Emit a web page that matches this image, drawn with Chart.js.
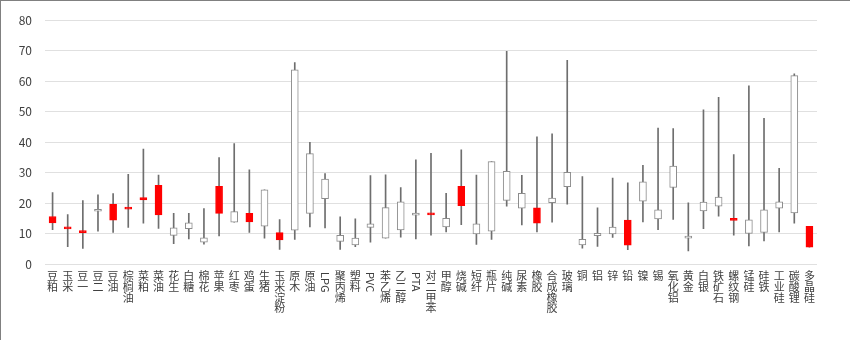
<!DOCTYPE html>
<html lang="zh">
<head>
  <meta charset="UTF-8">
  <title>期货品种区间</title>
  <script src="https://cdn.jsdelivr.net/npm/chart.js"></script>
  <style>
    body {
      margin: 0;
      background: #fff;
      overflow: hidden;
    }
    .wrap {
      position: relative;
      width: 850px;
      height: 340px;
    }
    .frame {
      position: absolute;
      left: 0;
      top: 0;
      width: 850px;
      height: 340px;
      border-top: 1px solid #808080;
      border-left: 1px solid #808080;
      box-sizing: border-box;
      pointer-events: none;
    }
  </style>
</head>
<body>
  <div class="wrap">
    <canvas id="chartCanvas" width="850" height="340"></canvas>
    <div class="frame"></div>
  </div>

  <script>
    const categories = ['豆粕', '玉米', '豆一', '豆二', '豆油', '棕榈油', '菜粕', '菜油', '花生', '白糖',
      '棉花', '苹果', '红枣', '鸡蛋', '生猪', '玉米淀粉', '原木', '原油', 'LPG', '聚丙烯',
      '塑料', 'PVC', '苯乙烯', '乙二醇', 'PTA', '对二甲苯', '甲醇', '烧碱', '短纤', '瓶片',
      '纯碱', '尿素', '橡胶', '合成橡胶', '玻璃', '铜', '铝', '锌', '铅', '镍',
      '锡', '氧化铝', '黄金', '白银', '铁矿石', '螺纹钢', '锰硅', '硅铁', '工业硅', '碳酸锂', '多晶硅'];

    const openVals = [13.5, 11.5, 10.3, 17.7, 14.4, 18.0, 21.0, 16.1, 11.9, 13.5,
      8.6, 16.6, 17.2, 13.8, 24.3, 7.9, 63.7, 36.2, 27.9, 9.4,
      8.5, 13.2, 18.5, 20.4, 16.7, 16.1, 15.0, 19.1, 13.2, 33.6,
      30.4, 23.2, 13.4, 21.6, 30.1, 8.1, 10.1, 12.1, 6.2, 27.0,
      17.8, 32.1, 8.7, 20.3, 22.0, 14.3, 14.5, 17.8, 20.4, 61.8, 5.5];

    const closeVals = [15.6, 11.7, 10.8, 17.3, 19.6, 18.4, 21.8, 25.8, 9.4, 11.6,
      7.2, 25.5, 13.7, 16.6, 12.4, 10.3, 11.1, 16.6, 21.4, 7.4,
      6.3, 12.0, 8.5, 11.2, 16.0, 16.6, 12.2, 25.5, 9.9, 10.8,
      20.9, 18.3, 18.4, 20.1, 25.4, 6.3, 9.3, 9.9, 14.4, 20.6,
      14.8, 25.1, 8.5, 17.4, 19.0, 15.0, 10.0, 10.4, 18.3, 16.8, 12.4];

    const lowVals = [11.3, 5.7, 5.1, 10.8, 10.4, 12.0, 13.4, 11.7, 6.7, 8.2,
      6.5, 9.2, 13.7, 10.4, 8.5, 4.8, 8.1, 12.2, 11.8, 4.8,
      5.7, 7.2, 8.5, 8.8, 8.2, 9.5, 10.5, 12.9, 6.4, 8.1,
      19.0, 12.8, 10.5, 13.7, 19.6, 5.2, 5.8, 8.7, 4.7, 13.8,
      11.3, 14.6, 4.3, 11.6, 15.7, 9.5, 5.9, 7.6, 10.5, 13.4, 5.5];

    const highVals = [23.4, 16.2, 20.8, 22.7, 23.1, 29.4, 37.7, 29.2, 16.6, 16.6,
      18.2, 34.9, 39.5, 30.9, 24.3, 14.6, 66.1, 39.9, 29.7, 15.5,
      14.8, 29.0, 29.3, 25.1, 34.2, 36.3, 23.2, 37.5, 29.2, 33.6,
      69.8, 29.1, 41.7, 42.7, 66.8, 28.7, 18.4, 28.2, 26.6, 32.4,
      44.6, 44.4, 20.1, 50.6, 54.7, 35.9, 58.5, 47.8, 31.4, 62.4, 12.4];

    const fontFamily = "'Noto Sans CJK SC', 'Noto Sans', sans-serif";
    const isLatin = s => /^[A-Za-z]+$/.test(s);

    const boxData = categories.map((c, i) => [Math.min(openVals[i], closeVals[i]), Math.max(openVals[i], closeVals[i])]);
    const wickData = categories.map((c, i) => [lowVals[i], highVals[i]]);
    const rising = categories.map((c, i) => closeVals[i] > openVals[i]);

    // rotated labels for the latin names (LPG, PVC, PTA)
    const latinLabels = {
      id: 'latinLabels',
      afterDraw(chart) {
        const xs = chart.scales.x;
        const ctx = chart.ctx;
        ctx.save();
        ctx.font = '11px ' + fontFamily;
        ctx.fillStyle = '#404040';
        ctx.textBaseline = 'middle';
        ctx.textAlign = 'left';
        categories.forEach((c, i) => {
          if (!isLatin(c)) return;
          const x = xs.getPixelForValue(i);
          ctx.save();
          ctx.translate(x, xs.top + 8);
          ctx.rotate(Math.PI / 2);
          ctx.fillText(c, 0, 0);
          ctx.restore();
        });
        ctx.restore();
      }
    };

    const ctx = document.getElementById('chartCanvas').getContext('2d');
    new Chart(ctx, {
      type: 'bar',
      data: {
        labels: categories,
        datasets: [
          {
            data: boxData,
            order: 0,
            grouped: false,
            barThickness: 7,
            minBarLength: 2,
            backgroundColor: rising.map(r => r ? '#ff0000' : '#ffffff'),
            borderColor: rising.map(r => r ? '#ff0000' : '#8c8c8c'),
            borderWidth: 1,
            borderSkipped: false
          },
          {
            data: wickData,
            order: 1,
            grouped: false,
            barThickness: 1,
            backgroundColor: '#6e6e6e',
            borderWidth: 0
          }
        ]
      },
      options: {
        responsive: false,
        animation: false,
        layout: { padding: { left: 0, right: 33, top: 19, bottom: 15 } },
        plugins: {
          legend: { display: false },
          tooltip: { enabled: false }
        },
        scales: {
          x: {
            grid: { display: false, drawTicks: false },
            border: { display: false },
            ticks: {
              autoSkip: false,
              maxRotation: 0,
              minRotation: 0,
              padding: 7,
              color: '#404040',
              font: { family: fontFamily, size: 11, lineHeight: 0.96 },
              callback: function (value) {
                const name = categories[value];
                return isLatin(name) ? '' : Array.from(name);
              }
            },
            afterFit(scale) { scale.height = 61; }
          },
          y: {
            min: 0,
            max: 80,
            grid: { color: '#e0e0e0', lineWidth: 1, drawTicks: false },
            border: { display: false },
            ticks: {
              stepSize: 10,
              padding: 13,
              color: '#404040',
              font: { family: fontFamily, size: 12 }
            },
            afterFit(scale) { scale.width = 45; }
          }
        }
      },
      plugins: [latinLabels]
    });
  </script>
</body>
</html>
